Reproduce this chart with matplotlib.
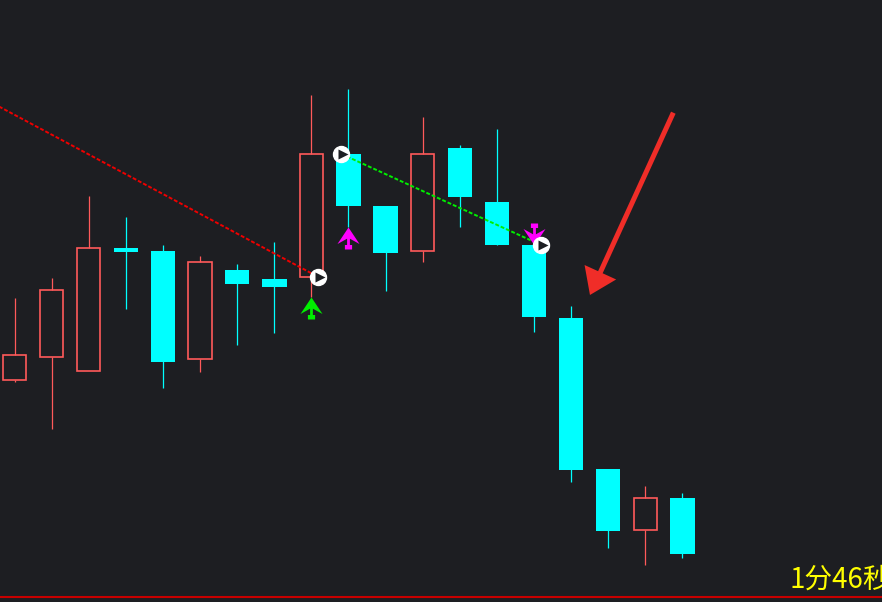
import matplotlib
matplotlib.use('Agg')
import matplotlib.pyplot as plt
from matplotlib.path import Path
from matplotlib.patches import FancyArrowPatch
from matplotlib.transforms import offset_copy

# K-line data (price units = screen pixels of the original, bottom = 0)
opens  = [222, 245, 231, 354, 351, 243, 332, 323, 325, 448, 396, 351, 454, 400, 357, 284, 133, 72, 104]
highs  = [304, 324, 406, 385, 357, 346, 338, 360, 507, 513, 396, 485, 457, 473, 357, 296, 133, 116, 109]
lows   = [220, 173, 231, 293, 214, 230, 257, 269, 305, 375, 311, 340, 375, 357, 270, 120, 54, 37, 44]
closes = [247, 312, 354, 350, 240, 340, 318, 315, 448, 396, 349, 448, 405, 357, 285, 132, 71, 104, 48]

# signals
buy_green = [8]          # green up arrow under the candle
buy_pink = [9]           # magenta up arrow
sell_pink = [14]         # magenta down arrow
pivot_idx = [8, 9, 14]   # white circles at the candle open
pivot_side = [1, -1, 1]  # circle left / right of the candle
trend_start = (-1, 507)  # red dashed trend line comes from off screen

timer_text = '1分46秒'

BG = '#1d1e22'
UP = '#ff5a5a'
DOWN = '#00ffff'

fig = plt.figure(figsize=(8.82, 6.02), dpi=100, facecolor=BG)
ax = fig.add_axes([0, 0, 1, 1], facecolor=BG)
ax.set_xlim(-0.391, 23.377)
ax.set_ylim(0, 602)
ax.axis('off')

w = 0.66
for i in range(len(opens)):
    o, h, l, c = opens[i], highs[i], lows[i], closes[i]
    if c >= o:
        ax.vlines(i, c, h, color=UP, lw=0.9, zorder=2)
        ax.vlines(i, l, o, color=UP, lw=0.9, zorder=2)
        ax.bar(i, c - o, bottom=o, width=w - 0.03, facecolor='none',
               edgecolor=UP, lw=1.2, zorder=3)
    else:
        ax.vlines(i, l, h, color=DOWN, lw=0.9, zorder=2)
        ax.bar(i, max(o - c, 3), bottom=c, width=w, color=DOWN, lw=0, zorder=3)

# arrow marker: notched head, thin stem, little square foot
up_verts = [(0, 11), (11, -5.5), (1.4, -0.2), (1.4, -6.5), (3.6, -6.5), (3.6, -11),
            (-3.6, -11), (-3.6, -6.5), (-1.4, -6.5), (-1.4, -0.2), (-11, -5.5), (0, 11)]
up_codes = [Path.MOVETO] + [Path.LINETO] * (len(up_verts) - 2) + [Path.CLOSEPOLY]
up_arrow = Path(up_verts, up_codes)
down_arrow = Path([(x, -y) for x, y in up_verts], up_codes)
ms = 22 * 72 / 100

below = offset_copy(ax.transData, fig=fig, x=0, y=-11, units='dots')
above = offset_copy(ax.transData, fig=fig, x=0, y=11, units='dots')
ax.plot(buy_green, [lows[i] for i in buy_green], ls='none', marker=up_arrow, ms=ms,
        mfc='#00ee00', mec='none', transform=below, zorder=6)
ax.plot(buy_pink, [lows[i] for i in buy_pink], ls='none', marker=up_arrow, ms=ms,
        mfc='#ff00ff', mec='none', transform=below, zorder=6)
ax.plot(sell_pink, [highs[i] for i in sell_pink], ls='none', marker=down_arrow, ms=ms,
        mfc='#ff00ff', mec='none', transform=above, zorder=6)

# pivots and dashed connection lines
shift = 0.19
px = [i + s * shift for i, s in zip(pivot_idx, pivot_side)]
py = [opens[i] for i in pivot_idx]
ax.plot([trend_start[0], px[0]], [trend_start[1], py[0]], color='#ee0000', lw=1.4,
        ls=(0, (2, 1)), zorder=4)
ax.plot(px[1:], py[1:], color='#00ee00', lw=1.4, ls=(0, (2, 1)), zorder=4)
ax.plot(px, py, ls='none', marker='o', ms=11.5, mfc='white', mec='white', zorder=7)
tri = offset_copy(ax.transData, fig=fig, x=2, y=0, units='dots')
ax.plot(px, py, ls='none', marker='>', ms=6.5, mfc=BG, mec='none', transform=tri, zorder=8)

# big red pointer arrow
big = FancyArrowPatch((0.7634, 0.8128), (0.6689, 0.5100), transform=ax.transAxes,
                      arrowstyle='simple,head_length=18,head_width=25,tail_width=3.6',
                      mutation_scale=1, shrinkA=0, shrinkB=0,
                      color='#f02d28', lw=0, zorder=9)
ax.add_patch(big)

# bottom border line and countdown
ax.plot([0, 1], [0.0088, 0.0088], transform=ax.transAxes, color='#c80000', lw=1.5,
        solid_capstyle='butt', zorder=5)
ax.text(0.895, 0.0233, timer_text, transform=ax.transAxes, color='#ffff00',
        fontsize=20, family=['Noto Sans CJK SC', 'DejaVu Sans'], va='baseline',
        ha='left', zorder=9)

fig.savefig('out.png', dpi=100, facecolor=BG)
